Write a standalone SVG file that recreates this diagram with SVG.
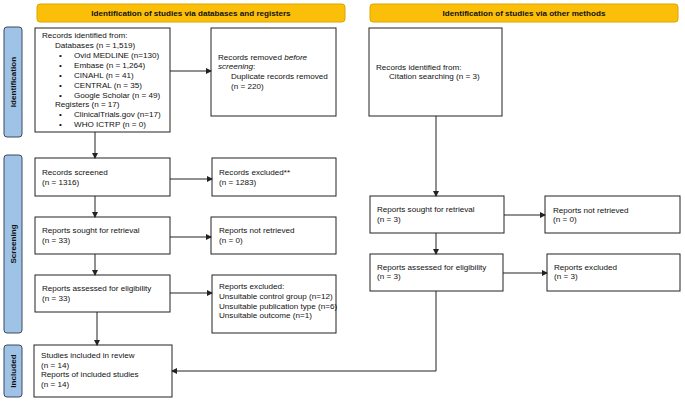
<svg xmlns="http://www.w3.org/2000/svg" width="685" height="401" viewBox="0 0 685 401">
<defs>
<style>
text{font-family:"Liberation Sans",Arial,sans-serif;font-size:8.1px;fill:#111}
.box{fill:#fff;stroke:#222;stroke-width:1}
.hdr{fill:#fbbf0a;stroke:#d9a600;stroke-width:1}
.side{fill:#9fc3e6;stroke:#3a4a5e;stroke-width:1}
.ht{font-weight:bold;text-anchor:middle}
.st{font-weight:bold;text-anchor:middle}
.c{stroke:#222;stroke-width:1;fill:none;marker-end:url(#a)}
</style>
<marker id="a" markerWidth="6" markerHeight="6" refX="5" refY="3" orient="auto" markerUnits="userSpaceOnUse"><path d="M0,0 L6,3 L0,6 z" fill="#222"/></marker>
</defs>
<rect width="685" height="401" fill="#fff"/>
<g id="hdr1"><rect class="hdr" x="37" y="4" width="308" height="18" rx="3"/><text class="ht" x="191" y="16">Identification of studies via databases and registers</text></g>
<g id="hdr2"><rect class="hdr" x="370" y="4" width="308" height="18" rx="3"/><text class="ht" x="524" y="16">Identification of studies via other methods</text></g>
<g id="side1"><rect class="side" x="4" y="27" width="18" height="110" rx="3"/><text class="st" transform="translate(16,82) rotate(-90)">Identification</text></g>
<g id="side2"><rect class="side" x="4" y="155" width="18" height="178" rx="3"/><text class="st" transform="translate(16,244) rotate(-90)">Screening</text></g>
<g id="side3"><rect class="side" x="4" y="345" width="18" height="52" rx="3"/><text class="st" transform="translate(16,371) rotate(-90)">Included</text></g>
<g id="n1"><rect class="box" x="35" y="28" width="135" height="104"/>
<text x="42" y="38">Records identified from:</text>
<text x="55" y="48">Databases (n = 1,519)</text>
<text x="59" y="58">•</text><text x="74" y="58">Ovid MEDLINE (n=130)</text>
<text x="59" y="68">•</text><text x="74" y="68">Embase (n = 1,264)</text>
<text x="59" y="78">•</text><text x="74" y="78">CINAHL (n = 41)</text>
<text x="59" y="88">•</text><text x="74" y="88">CENTRAL (n = 35)</text>
<text x="59" y="98">•</text><text x="74" y="98">Google Scholar (n = 49)</text>
<text x="55" y="107">Registers (n = 17)</text>
<text x="59" y="117">•</text><text x="74" y="117">ClinicalTrials.gov (n=17)</text>
<text x="59" y="127">•</text><text x="74" y="127">WHO ICTRP (n = 0)</text></g>
<g id="n2"><rect class="box" x="211" y="28" width="125" height="88"/>
<text x="218" y="60">Records removed <tspan font-style="italic">before</tspan></text>
<text x="218" y="69"><tspan font-style="italic">screening</tspan>:</text>
<text x="231" y="79">Duplicate records removed</text>
<text x="231" y="89">(n = 220)</text></g>
<g id="n3"><rect class="box" x="35" y="158" width="135" height="38"/><text x="42" y="175">Records screened</text><text x="42" y="185">(n = 1316)</text></g>
<g id="n4"><rect class="box" x="212" y="158" width="124" height="38"/><text x="219" y="175">Records excluded**</text><text x="219" y="185">(n = 1283)</text></g>
<g id="n5"><rect class="box" x="35" y="217" width="135" height="37"/><text x="42" y="233">Reports sought for retrieval</text><text x="42" y="243">(n = 33)</text></g>
<g id="n6"><rect class="box" x="211" y="217" width="125" height="37"/><text x="219" y="233">Reports not retrieved</text><text x="219" y="243">(n = 0)</text></g>
<g id="n7"><rect class="box" x="35" y="275" width="135" height="37"/><text x="42" y="291">Reports assessed for eligibility</text><text x="42" y="301">(n = 33)</text></g>
<g id="n8"><rect class="box" x="212" y="275" width="124" height="58"/><text x="219" y="289">Reports excluded:</text><text x="219" y="299">Unsuitable control group (n=12)</text><text x="219" y="309">Unsuitable publication type (n=6)</text><text x="219" y="318">Unsuitable outcome (n=1)</text></g>
<g id="n9"><rect class="box" x="34" y="345" width="138" height="52"/><text x="41" y="358">Studies included in review</text><text x="41" y="368">(n = 14)</text><text x="41" y="377">Reports of included studies</text><text x="41" y="387">(n = 14)</text></g>
<g id="m1"><rect class="box" x="369" y="28" width="133" height="88"/><text x="376" y="70">Records identified from:</text><text x="389" y="79">Citation searching (n = 3)</text></g>
<g id="m2"><rect class="box" x="370" y="196" width="134" height="37"/><text x="377" y="212">Reports sought for retrieval</text><text x="377" y="222">(n = 3)</text></g>
<g id="m3"><rect class="box" x="545" y="196" width="135" height="37"/><text x="553" y="213">Reports not retrieved</text><text x="553" y="222">(n = 0)</text></g>
<g id="m4"><rect class="box" x="370" y="254" width="133" height="37"/><text x="377" y="270">Reports assessed for eligibility</text><text x="377" y="279">(n = 3)</text></g>
<g id="m5"><rect class="box" x="547" y="254" width="133" height="37"/><text x="554" y="270">Reports excluded</text><text x="554" y="279">(n = 3)</text></g>
<g id="connectors">
<path class="c" d="M95,132 V158"/>
<path class="c" d="M170,71 H211"/>
<path class="c" d="M95,196 V217"/>
<path class="c" d="M170,179 H212"/>
<path class="c" d="M95,254 V275"/>
<path class="c" d="M170,237 H211"/>
<path class="c" d="M97,312 V345"/>
<path class="c" d="M170,293 H212"/>
<path class="c" d="M436,116 V196"/>
<path class="c" d="M504,215 H545"/>
<path class="c" d="M436,233 V254"/>
<path class="c" d="M503,273 H547"/>
<path class="c" d="M436,291 V371 H172"/>
</g>
</svg>
